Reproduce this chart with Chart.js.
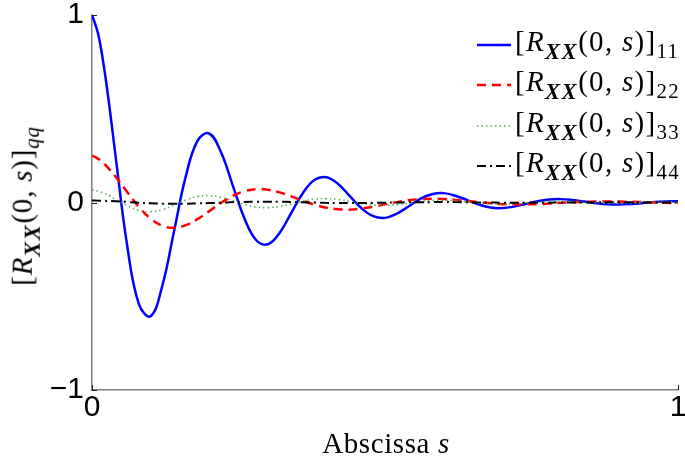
<!DOCTYPE html>
<html>
<head>
<meta charset="utf-8">
<script src="https://cdn.jsdelivr.net/npm/chart.js@4.4.1/dist/chart.umd.min.js"></script>
<style>
  body { margin: 0; background: #fff; }
  #wrap { position: relative; width: 685px; height: 465px; }
  .tex { font-family: "Liberation Serif", "DejaVu Serif", serif; color: #000; white-space: nowrap; line-height: 1; letter-spacing: 0.8px; }
  .tex sub { font-size: 0.72em; vertical-align: -0.35em; }
  .tex .bx { font-weight: bold; font-style: italic; font-size: 0.78em; letter-spacing: 1.5px; }
  #ytitle { position: absolute; left: 26px; top: 206px; font-size: 29px; transform: translate(-50%, -50%) rotate(-90deg); }
  #xtitle { position: absolute; left: 386px; top: 443px; font-size: 29px; letter-spacing: 0.6px; transform: translate(-50%, -50%); }
  .row { position: absolute; left: 477px; height: 40px; display: flex; align-items: center; }
  .row svg { margin-right: 4px; }
  .row .tex { font-size: 29px; letter-spacing: 1.3px; }
</style>
</head>
<body>
<div id="wrap">
  <canvas id="corr" width="685" height="465"></canvas>
  <div id="ytitle" class="tex">[<i>R</i><sub class="bx">XX</sub>(0, <i>s</i>)]<sub><i>qq</i></sub></div>
  <div id="xtitle" class="tex">Abscissa <i>s</i></div>
  <div id="legend"></div>
</div>
<script>
// abscissa s and the diagonal entries of the correlation matrix
const abscissa = [0, 0.01, 0.02, 0.03, 0.04, 0.06, 0.08, 0.1, 0.12, 0.14, 0.16, 0.18,
  0.2, 0.22, 0.24, 0.26, 0.28, 0.3, 0.32, 0.34, 0.36, 0.38,
  0.4, 0.42, 0.44, 0.46, 0.48, 0.5, 0.52, 0.54, 0.56, 0.58,
  0.6, 0.62, 0.64, 0.66, 0.68, 0.7, 0.72, 0.74, 0.76, 0.78,
  0.8, 0.82, 0.84, 0.86, 0.88, 0.9, 0.92, 0.94, 0.96, 0.98, 1];

const rxx11 = [1.000, 0.905, 0.732, 0.506, 0.253, -0.229, -0.542, -0.607, -0.444, -0.153, 0.139, 0.329,
  0.368, 0.269, 0.093, -0.084, -0.200, -0.223, -0.163, -0.056, 0.051, 0.121,
  0.135, 0.099, 0.034, -0.031, -0.073, -0.082, -0.060, -0.021, 0.019, 0.044,
  0.050, 0.036, 0.013, -0.011, -0.027, -0.030, -0.022, -0.008, 0.007, 0.016,
  0.018, 0.013, 0.005, -0.004, -0.010, -0.011, -0.008, -0.003, 0.003, 0.006, 0.007];

const rxx22 = [0.250, 0.234, 0.209, 0.176, 0.139, 0.056, -0.024, -0.086, -0.124, -0.135, -0.121, -0.089,
  -0.046, -0.003, 0.035, 0.060, 0.071, 0.068, 0.054, 0.033, 0.009, -0.012,
  -0.028, -0.036, -0.038, -0.032, -0.022, -0.010, 0.002, 0.012, 0.018, 0.020,
  0.019, 0.014, 0.008, 0.001, -0.004, -0.009, -0.010, -0.010, -0.009, -0.006,
  -0.002, 0.001, 0.003, 0.005, 0.006, 0.005, 0.004, 0.002, 0.000, -0.002, -0.003];

const rxx33 = [0.066, 0.061, 0.050, 0.036, 0.018, -0.017, -0.042, -0.049, -0.038, -0.014, 0.013, 0.032,
  0.037, 0.028, 0.010, -0.010, -0.024, -0.028, -0.021, -0.008, 0.007, 0.018,
  0.021, 0.016, 0.006, -0.005, -0.013, -0.015, -0.012, -0.004, 0.004, 0.010,
  0.012, 0.009, 0.003, -0.003, -0.007, -0.009, -0.007, -0.002, 0.002, 0.006,
  0.006, 0.005, 0.002, -0.002, -0.004, -0.005, -0.004, -0.001, 0.001, 0.003, 0.004];

const rxx44 = [0.011, 0.010, 0.009, 0.008, 0.007, 0.003, -0.001, -0.004, -0.006, -0.007, -0.007, -0.005,
  -0.003, -0.001, 0.002, 0.003, 0.004, 0.004, 0.004, 0.003, 0.001, 0.000,
  -0.002, -0.003, -0.003, -0.003, -0.002, -0.001, 0.000, 0.001, 0.001, 0.002,
  0.002, 0.002, 0.001, 0.000, 0.000, -0.001, -0.001, -0.001, -0.001, -0.001,
  0.000, 0.000, 0.000, 0.001, 0.001, 0.001, 0.001, 0.000, 0.000, 0.000, 0.000];

const entryLabels = ['11', '22', '33', '44'];
const xTicks = [0, 1];
const yTicks = [-1, 0, 1];

function points(values) {
    return abscissa.map((s, i) => ({ x: s, y: values[i] }));
}

const series = [
    { data: rxx11, color: '#0000ff', width: 2.5, dash: [], order: 4 },
    { data: rxx22, color: '#ff0000', width: 2.5, dash: [9, 6], order: 3 },
    { data: rxx33, color: '#4fae4f', width: 1.5, dash: [1.5, 3], order: 2 },
    { data: rxx44, color: '#000000', width: 2, dash: [9, 4, 2, 4], order: 1 }
];

// small inward tick marks at each labelled value
const innerTicks = {
    id: 'innerTicks',
    afterDatasetsDraw(chart) {
        const { ctx, chartArea, scales } = chart;
        ctx.save();
        ctx.strokeStyle = '#222';
        ctx.lineWidth = 1;
        ctx.beginPath();
        xTicks.forEach(v => {
            const px = Math.round(scales.x.getPixelForValue(v)) + 0.5;
            ctx.moveTo(px, chartArea.bottom);
            ctx.lineTo(px, chartArea.bottom - 5);
        });
        yTicks.forEach(v => {
            const py = Math.round(scales.y.getPixelForValue(v)) + 0.5;
            ctx.moveTo(chartArea.left, py);
            ctx.lineTo(chartArea.left + 5, py);
        });
        ctx.stroke();
        ctx.restore();
    }
};

const tickFont = { family: 'Liberation Sans, Arial, sans-serif', size: 30, lineHeight: 1 };

const chart = new Chart(document.getElementById('corr').getContext('2d'), {
    type: 'line',
    data: {
        datasets: series.map((s, i) => ({
            label: '[R_XX(0,s)]_' + entryLabels[i],
            data: points(s.data),
            borderColor: s.color,
            borderWidth: s.width,
            borderDash: s.dash,
            pointRadius: 0,
            fill: false,
            tension: 0.4,
            order: s.order
        }))
    },
    options: {
        responsive: false,
        animation: false,
        layout: { padding: { left: 0, top: 15, right: 7, bottom: 0 } },
        plugins: {
            legend: { display: false },
            tooltip: { enabled: false }
        },
        scales: {
            x: {
                type: 'linear',
                min: 0,
                max: 1,
                afterBuildTicks: scale => { scale.ticks = xTicks.map(v => ({ value: v })); },
                afterFit: scale => { scale.height = 75; scale.paddingLeft = 0; scale.paddingRight = 0; },
                grid: { display: false, drawTicks: false },
                border: { display: true, color: '#808080', width: 1.5 },
                ticks: { color: '#000', font: tickFont, padding: 3, maxRotation: 0 }
            },
            y: {
                type: 'linear',
                min: -1,
                max: 1,
                afterBuildTicks: scale => { scale.ticks = yTicks.map(v => ({ value: v })); },
                afterFit: scale => { scale.width = 92; scale.paddingTop = 0; scale.paddingBottom = 0; },
                grid: { display: false, drawTicks: false },
                border: { display: true, color: '#808080', width: 1.5 },
                ticks: {
                    color: '#000',
                    font: tickFont,
                    padding: 8,
                    callback: v => v < 0 ? '\u2212' + Math.abs(v) : String(v)
                }
            }
        }
    },
    plugins: [innerTicks]
});

// legend with line samples and subscripted entry names
const legend = document.getElementById('legend');
const rowCentres = [45, 85, 126, 166];
series.forEach((s, i) => {
    const row = document.createElement('div');
    row.className = 'row';
    row.style.top = (rowCentres[i] - 20) + 'px';
    row.innerHTML =
        '<svg width="34" height="10"><line x1="0" y1="5" x2="34" y2="5" stroke="' + s.color +
        '" stroke-width="' + s.width + '" stroke-dasharray="' + (s.dash.length ? s.dash.join(' ') : 'none') + '"/></svg>' +
        '<span class="tex">[<i>R</i><sub class="bx">XX</sub>(0, <i>s</i>)]<sub>' + entryLabels[i] + '</sub></span>';
    legend.appendChild(row);
});
</script>
</body>
</html>
